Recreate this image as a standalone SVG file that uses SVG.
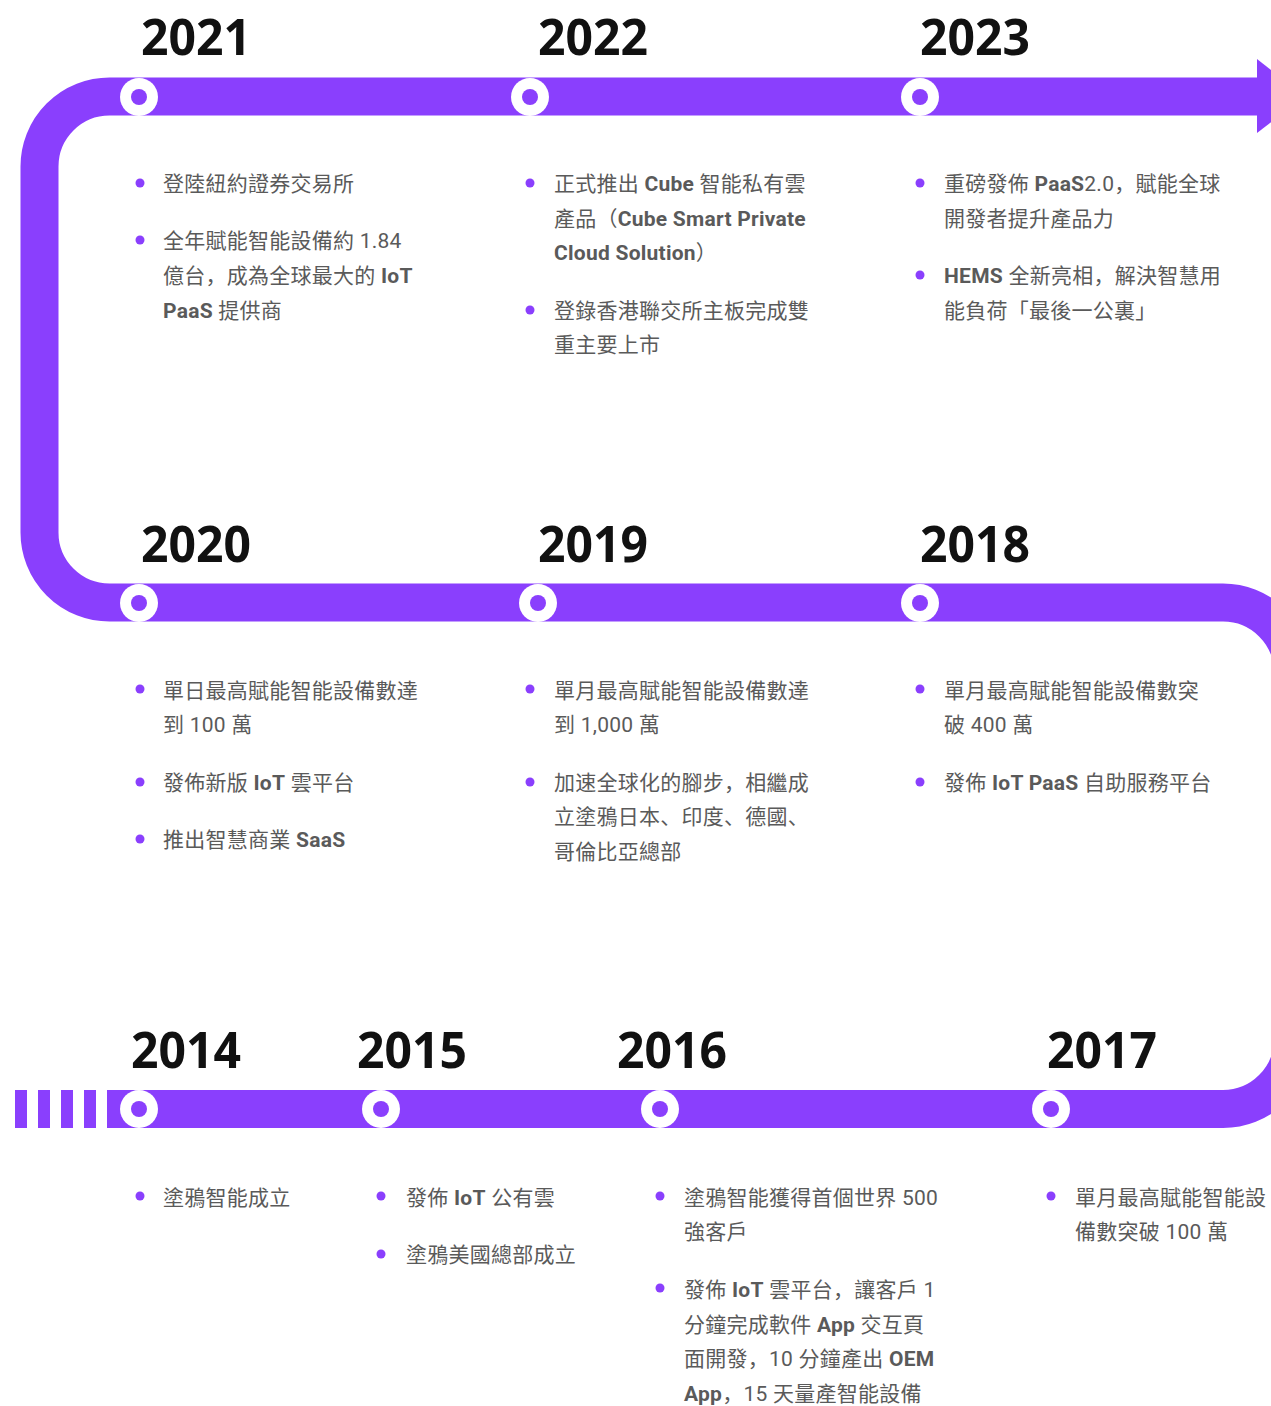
<svg xmlns="http://www.w3.org/2000/svg" width="1271" height="1406" viewBox="0 0 1271 1406">
<style>
.yr{font-family:"Noto Sans","Noto Sans CJK SC",sans-serif;font-weight:700;font-size:50px;fill:#111}
.t{font-family:Roboto,"Noto Sans CJK SC",sans-serif;font-size:21px;letter-spacing:0.25px;fill:#5a5a5a}
.b{font-weight:700}
.dot{fill:#8a3ffd}
.ring{fill:#fff}
.pin{fill:#8a3ffd}
</style>
<defs>
<g id="node"><circle r="19" class="ring"/><circle r="8" class="pin"/></g>
</defs>
<g id="connectors">
<path d="M1260 96.5 H109.5 A70 70 0 0 0 39.5 166.5 V532.5 A70 70 0 0 0 109.5 602.5 H1223 A70 70 0 0 1 1293 672.5 V1039 A70 70 0 0 1 1223 1109 H107" fill="none" stroke="#8a3ffd" stroke-width="38"/>
<polygon points="1257,59 1305,96.5 1257,133" fill="#8a3ffd"/>
<rect x="15" y="1090" width="12" height="38" fill="#8a3ffd"/>
<rect x="38" y="1090" width="12" height="38" fill="#8a3ffd"/>
<rect x="61" y="1090" width="12" height="38" fill="#8a3ffd"/>
<rect x="84" y="1090" width="12" height="38" fill="#8a3ffd"/>
</g>

<g id="n2021">
<text class="yr" x="141" y="55" textLength="110" lengthAdjust="spacingAndGlyphs">2021</text>
<use href="#node" x="139" y="97"/>
<circle class="dot" cx="140" cy="183" r="4.5"/>
<text class="t" x="163" y="191">登陸紐約證券交易所</text>
<circle class="dot" cx="140" cy="240" r="4.5"/>
<text class="t" x="163" y="248">全年賦能智能設備約 1.84</text>
<text class="t" x="163" y="283">億台，成為全球最大的 <tspan class="b">IoT</tspan></text>
<text class="t" x="163" y="318"><tspan class="b">PaaS</tspan> 提供商</text>
</g>

<g id="n2022">
<text class="yr" x="538" y="55" textLength="110" lengthAdjust="spacingAndGlyphs">2022</text>
<use href="#node" x="530" y="97"/>
<circle class="dot" cx="530" cy="183" r="4.5"/>
<text class="t" x="554" y="191">正式推出 <tspan class="b">Cube</tspan> 智能私有雲</text>
<text class="t" x="554" y="226">產品（<tspan class="b">Cube Smart Private</tspan></text>
<text class="t" x="554" y="260"><tspan class="b">Cloud Solution</tspan>）</text>
<circle class="dot" cx="530" cy="310" r="4.5"/>
<text class="t" x="554" y="318">登錄香港聯交所主板完成雙</text>
<text class="t" x="554" y="352">重主要上市</text>
</g>

<g id="n2023">
<text class="yr" x="920" y="55" textLength="110" lengthAdjust="spacingAndGlyphs">2023</text>
<use href="#node" x="920" y="97"/>
<circle class="dot" cx="920" cy="183" r="4.5"/>
<text class="t" x="944" y="191">重磅發佈 <tspan class="b">PaaS</tspan>2.0，賦能全球</text>
<text class="t" x="944" y="226">開發者提升產品力</text>
<circle class="dot" cx="920" cy="275" r="4.5"/>
<text class="t" x="944" y="283"><tspan class="b">HEMS</tspan> 全新亮相，解決智慧用</text>
<text class="t" x="944" y="318">能負荷「最後一公裏」</text>
</g>

<g id="n2020">
<text class="yr" x="141" y="562" textLength="110" lengthAdjust="spacingAndGlyphs">2020</text>
<use href="#node" x="139" y="603"/>
<circle class="dot" cx="140" cy="689" r="4.5"/>
<text class="t" x="163" y="698">單日最高賦能智能設備數達</text>
<text class="t" x="163" y="732">到 100 萬</text>
<circle class="dot" cx="140" cy="782" r="4.5"/>
<text class="t" x="163" y="790">發佈新版 <tspan class="b">IoT</tspan> 雲平台</text>
<circle class="dot" cx="140" cy="839" r="4.5"/>
<text class="t" x="163" y="847">推出智慧商業 <tspan class="b">SaaS</tspan></text>
</g>

<g id="n2019">
<text class="yr" x="538" y="562" textLength="110" lengthAdjust="spacingAndGlyphs">2019</text>
<use href="#node" x="538" y="603"/>
<circle class="dot" cx="530" cy="689" r="4.5"/>
<text class="t" x="554" y="698">單月最高賦能智能設備數達</text>
<text class="t" x="554" y="732">到 1,000 萬</text>
<circle class="dot" cx="530" cy="782" r="4.5"/>
<text class="t" x="554" y="790">加速全球化的腳步，相繼成</text>
<text class="t" x="554" y="824">立塗鴉日本、印度、德國、</text>
<text class="t" x="554" y="859">哥倫比亞總部</text>
</g>

<g id="n2018">
<text class="yr" x="920" y="562" textLength="110" lengthAdjust="spacingAndGlyphs">2018</text>
<use href="#node" x="920" y="603"/>
<circle class="dot" cx="920" cy="689" r="4.5"/>
<text class="t" x="944" y="698">單月最高賦能智能設備數突</text>
<text class="t" x="944" y="732">破 400 萬</text>
<circle class="dot" cx="920" cy="782" r="4.5"/>
<text class="t" x="944" y="790">發佈 <tspan class="b">IoT PaaS</tspan> 自助服務平台</text>
</g>

<g id="n2014">
<text class="yr" x="131" y="1068" textLength="110" lengthAdjust="spacingAndGlyphs">2014</text>
<use href="#node" x="139" y="1109"/>
<circle class="dot" cx="140" cy="1196" r="4.5"/>
<text class="t" x="163" y="1205">塗鴉智能成立</text>
</g>

<g id="n2015">
<text class="yr" x="357" y="1068" textLength="110" lengthAdjust="spacingAndGlyphs">2015</text>
<use href="#node" x="381" y="1109"/>
<circle class="dot" cx="381" cy="1196" r="4.5"/>
<text class="t" x="406" y="1205">發佈 <tspan class="b">IoT</tspan> 公有雲</text>
<circle class="dot" cx="381" cy="1254" r="4.5"/>
<text class="t" x="406" y="1262">塗鴉美國總部成立</text>
</g>

<g id="n2016">
<text class="yr" x="617" y="1068" textLength="110" lengthAdjust="spacingAndGlyphs">2016</text>
<use href="#node" x="660" y="1109"/>
<circle class="dot" cx="660" cy="1196" r="4.5"/>
<text class="t" x="684" y="1205">塗鴉智能獲得首個世界 500</text>
<text class="t" x="684" y="1239">強客戶</text>
<circle class="dot" cx="660" cy="1288" r="4.5"/>
<text class="t" x="684" y="1297">發佈 <tspan class="b">IoT</tspan> 雲平台，讓客戶 1</text>
<text class="t" x="684" y="1332">分鐘完成軟件 <tspan class="b">App</tspan> 交互頁</text>
<text class="t" x="684" y="1366">面開發，10 分鐘產出 <tspan class="b">OEM</tspan></text>
<text class="t" x="684" y="1401"><tspan class="b">App</tspan>，15 天量產智能設備</text>
</g>

<g id="n2017">
<text class="yr" x="1047" y="1068" textLength="110" lengthAdjust="spacingAndGlyphs">2017</text>
<use href="#node" x="1051" y="1109"/>
<circle class="dot" cx="1051" cy="1196" r="4.5"/>
<text class="t" x="1075" y="1205">單月最高賦能智能設</text>
<text class="t" x="1075" y="1239">備數突破 100 萬</text>
</g>
</svg>
